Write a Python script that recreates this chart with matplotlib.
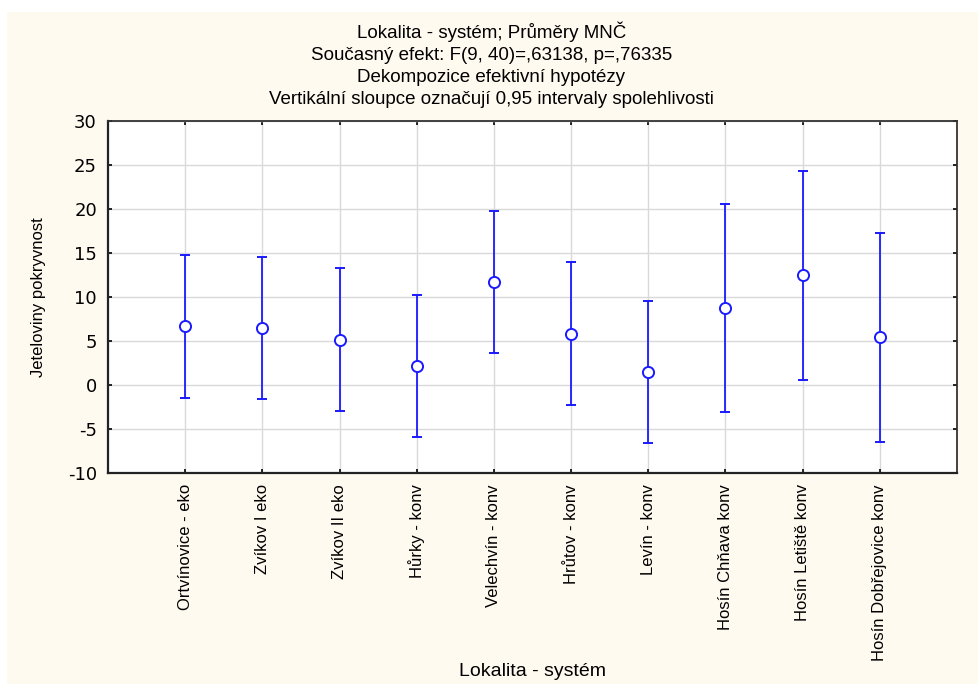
import matplotlib.pyplot as plt
from matplotlib.patches import Rectangle

# Data
categories = ["Ortvínovice - eko", "Zvíkov I eko", "Zvíkov II eko", "Hůrky - konv",
              "Velechvín - konv", "Hrůtov - konv", "Levín - konv", "Hosín Chňava konv",
              "Hosín Letiště konv", "Hosín Dobřejovice konv"]
means = [6.65, 6.5, 5.15, 2.15, 11.7, 5.85, 1.5, 8.75, 12.45, 5.4]
upper = [14.8, 14.6, 13.25, 10.25, 19.8, 13.95, 9.6, 20.6, 24.3, 17.3]
lower = [-1.45, -1.6, -2.95, -5.95, 3.6, -2.25, -6.6, -3.1, 0.6, -6.5]
yticks = [-10, -5, 0, 5, 10, 15, 20, 25, 30]

title = ("Lokalita - systém; Průměry MNČ\n"
         "Současný efekt: F(9, 40)=,63138, p=,76335\n"
         "Dekompozice efektivní hypotézy\n"
         "Vertikální sloupce označují 0,95 intervaly spolehlivosti")

plt.rcParams['font.family'] = ['Liberation Sans', 'DejaVu Sans']

fig = plt.figure(figsize=(9.79, 6.84), dpi=100, facecolor="white")

# cream panel behind everything
fig.patches.append(Rectangle((7 / 979, 0), 1, 1 - 12 / 684, transform=fig.transFigure,
                             facecolor="#fffaf0", edgecolor="none", zorder=-10))

ax = fig.add_axes([108 / 979, 1 - 473 / 684, (957 - 108) / 979, (473 - 121) / 684])
ax.set_facecolor("white")

x = list(range(1, len(categories) + 1))
err_low = [m - lo for m, lo in zip(means, lower)]
err_high = [hi - m for m, hi in zip(means, upper)]

ax.errorbar(x, means, yerr=[err_low, err_high], fmt="o", color="#1a1aff",
            ecolor="#1a1aff", elinewidth=1.3, capsize=3.5, capthick=1.3,
            markersize=8, markerfacecolor="white", markeredgewidth=1.4, zorder=3)

ax.set_xlim(0, len(categories) + 1)
ax.set_ylim(-10, 30)
ax.set_xticks(x)
ax.set_xticklabels(categories, rotation=90, fontsize=12)
ax.set_yticks(yticks)
ax.set_yticklabels([str(v) for v in yticks], fontsize=13, family="DejaVu Sans")

ax.grid(True, color="#d9d9d9", linewidth=1)
ax.set_axisbelow(True)
ax.tick_params(direction="in", length=3, width=1.2, top=True, right=True)
ax.tick_params(axis="x", pad=8)
ax.tick_params(axis="y", pad=8)

for side in ["left", "bottom"]:
    ax.spines[side].set_linewidth(1.6)
    ax.spines[side].set_color("#222222")
for side in ["top", "right"]:
    ax.spines[side].set_linewidth(1.3)
    ax.spines[side].set_color("#333333")

ax.set_ylabel("Jeteloviny pokryvnost", fontsize=12, labelpad=16)
ax.set_xlabel("Lokalita - systém", fontsize=14)
ax.xaxis.label.set_va("center")
ax.xaxis.set_label_coords(0.5, -(672 - 473) / 352)

fig.text(0.502, 0.968, title, ha="center", va="top", fontsize=13.5, linespacing=1.37)

plt.savefig("out.png", dpi=100, facecolor=fig.get_facecolor())
